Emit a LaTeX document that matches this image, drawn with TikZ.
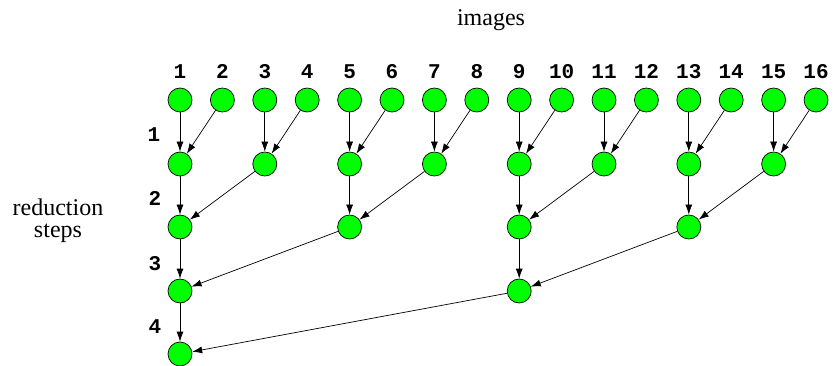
\documentclass[tikz,border=0pt]{standalone}
\usepackage{fontspec}
\setmainfont{Liberation Serif}
\newfontfamily\numfont{Liberation Mono}
\usetikzlibrary{arrows.meta}
\definecolor{nodegreen}{RGB}{0,255,0}
\begin{document}
\begin{tikzpicture}[x=1pt,y=-1pt,
  dot/.style={circle,draw=black,line width=0.7pt,fill=nodegreen,minimum size=24pt,inner sep=0pt},
  num/.style={font=\numfont\bfseries\fontsize{21}{21}\selectfont,inner sep=0pt,anchor=base},
  lbl/.style={font=\fontsize{24}{22}\selectfont,align=center,inner sep=0pt},
  arr/.style={-{Latex[length=10pt,width=7pt]},line width=0.7pt,shorten >=0pt}]
\useasboundingbox (0,0) rectangle (838,366);
\node[lbl] (images) at (491,20) {images};
\node[lbl] (rs) at (58,221) {reduction\\steps};
% top row
\foreach \i in {1,...,16}{
  \pgfmathsetmacro{\xx}{180+(\i-1)*42.4}
  \node[dot] (a\i) at (\xx,100) {};
  \node[num] (t\i) at (\xx,79) {\i};
}
% step 1
\foreach \j in {1,...,8}{
  \pgfmathtruncatemacro{\l}{2*\j-1}
  \pgfmathtruncatemacro{\r}{2*\j}
  \pgfmathsetmacro{\xx}{180+(\l-1)*42.4}
  \node[dot] (b\j) at (\xx,164) {};
  \draw[arr] (a\l) -- (b\j);
  \draw[arr] (a\r) -- (b\j);
}
% step 2
\foreach \j in {1,...,4}{
  \pgfmathtruncatemacro{\l}{2*\j-1}
  \pgfmathtruncatemacro{\r}{2*\j}
  \pgfmathsetmacro{\xx}{180+(4*\j-4)*42.4}
  \node[dot] (c\j) at (\xx,227) {};
  \draw[arr] (b\l) -- (c\j);
  \draw[arr] (b\r) -- (c\j);
}
% step 3
\foreach \j in {1,2}{
  \pgfmathtruncatemacro{\l}{2*\j-1}
  \pgfmathtruncatemacro{\r}{2*\j}
  \pgfmathsetmacro{\xx}{180+(8*\j-8)*42.4}
  \node[dot] (d\j) at (\xx,291) {};
  \draw[arr] (c\l) -- (d\j);
  \draw[arr] (c\r) -- (d\j);
}
% step 4
\node[dot] (e1) at (180,354) {};
\draw[arr] (d1) -- (e1);
\draw[arr] (d2) -- (e1);
% step labels
\node[num] (s1) at (154,142) {1};
\node[num] (s2) at (155,206) {2};
\node[num] (s3) at (155,270) {3};
\node[num] (s4) at (155,333) {4};
\end{tikzpicture}
\end{document}
